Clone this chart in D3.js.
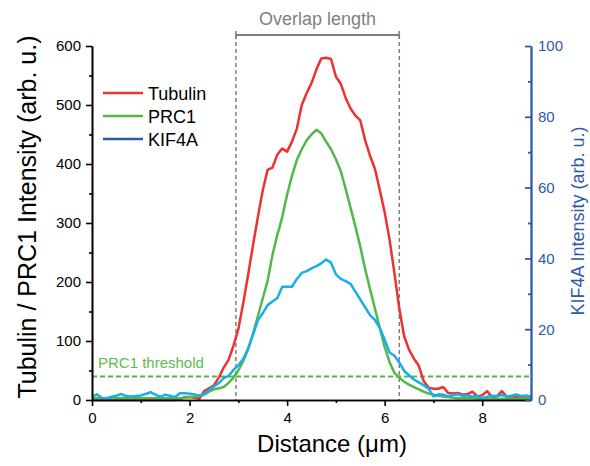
<!DOCTYPE html>
<html><head><meta charset="utf-8">
<script src="https://cdn.jsdelivr.net/npm/d3@7"></script>
<style>body{margin:0;background:#fff}svg{display:block}text{font-family:"Liberation Sans",Arial,sans-serif}</style>
</head><body><svg id="c" width="590" height="466"></svg>
<script>
const distance = d3.range(0, 91).map(i => +(i * 0.1).toFixed(1));
const tubulin = [0,0,0,0,0,0,0,0,0,0, 0,0,0,0,0,0,0,0,1,5,
  5,4,2,15,20,25,38,55,68,92, 120,164,212,262,310,355,390,394,416,426,
  421,438,460,500,520,537,560,579,580,578, 548,536,512,494,482,474,440,414,392,356,
  318,272,215,155,108,85,70,58,32,21, 19,19,22,12,11,12,9,10,14,6,
  8,15,5,6,15,6,4,5,4,4, 3];
const prc1 = [3,3,3,3,3,3,3,3,3,3, 3,3,3,3,3,3,3,3,3,4,
  5,6,7,9,14,18,20,22,29,38, 50,66,86,112,142,172,202,246,280,310,
  348,380,407,425,440,450,458,452,438,425, 408,388,358,326,294,260,222,188,155,122,
  90,64,46,38,31,26,22,18,14,11, 9,7,6,5,4,3,3,3,3,2,
  2,2,2,2,2,2,2,2,2,2, 2];
const kif4a = [0.9,1.6,0.6,0.5,0.9,1.2,1.7,1.1,1.0,1.1, 1.3,1.7,2.2,1.5,0.9,1.5,1.2,0.8,1.9,1.9,
  1.8,1.6,1.2,1.8,2.8,3.8,4.8,6.2,6.8,8.5, 9.8,11.6,14.5,18.4,22.5,24.5,26.8,27.8,28.8,32.0,
  32.0,32.0,34.2,35.9,36.4,37.2,37.8,38.6,39.7,38.8, 35.5,34.2,33.6,32.8,30.6,28.4,26.2,24.0,22.6,20.4,
  17.0,13.4,12.5,10.6,8.2,7.0,5.8,5.0,4.2,3.2, 1.0,1.6,1.5,1.0,1.4,1.6,1.2,1.3,1.0,1.1,
  0.5,0.9,1.2,1.1,1.4,1.0,1.2,1.6,1.1,1.3, 1.0];
const seriesNames = ["Tubulin", "PRC1", "KIF4A"];
const xTicks = [0, 2, 4, 6, 8];
const xMinor = [1, 3, 5, 7];
const yTicks = [0, 100, 200, 300, 400, 500, 600];
const yMinor = [50, 150, 250, 350, 450, 550];
const y2Ticks = [0, 20, 40, 60, 80, 100];
const y2Minor = [10, 30, 50, 70, 90];
const prc1Threshold = 40;
const overlap = [2.95, 6.30];

const RED = "#ee3131", GREEN = "#52b848", CYAN = "#18aeea", BLUE = "#2d5aa6", GRAY = "#7f7f7f";
const svg = d3.select("#c");
const x = d3.scaleLinear().domain([0, 9]).range([92, 531]);
const y = d3.scaleLinear().domain([0, 600]).range([400, 46]);
const y2 = d3.scaleLinear().domain([0, 100]).range([400, 46]);

function styleAxis(g, color, w) {
  g.select(".domain").attr("stroke", color).attr("stroke-width", w);
  g.selectAll(".tick line").attr("stroke", color).attr("stroke-width", w);
  g.selectAll(".tick text").attr("fill", color).style("font-size", "15px")
    .style("font-family", '"Liberation Sans",Arial,sans-serif');
}

// overlap markers
overlap.forEach(v => {
  svg.append("line").attr("x1", x(v)).attr("x2", x(v)).attr("y1", 35).attr("y2", 400)
    .attr("stroke", GRAY).attr("stroke-width", 1.5).attr("stroke-dasharray", "4,3");
  svg.append("line").attr("x1", x(v)).attr("x2", x(v)).attr("y1", 31).attr("y2", 39)
    .attr("stroke", GRAY).attr("stroke-width", 1.5);
});
svg.append("line").attr("x1", x(overlap[0])).attr("x2", x(overlap[1])).attr("y1", 35).attr("y2", 35)
  .attr("stroke", GRAY).attr("stroke-width", 2);
svg.append("text").attr("x", (x(overlap[0]) + x(overlap[1])) / 2).attr("y", 25)
  .attr("text-anchor", "middle").attr("fill", GRAY).style("font-size", "18px").text("Overlap length");

// threshold
svg.append("line").attr("x1", x(0)).attr("x2", x(9)).attr("y1", y(prc1Threshold)).attr("y2", y(prc1Threshold))
  .attr("stroke", GREEN).attr("stroke-width", 2).attr("stroke-dasharray", "5,3");
svg.append("text").attr("x", 98).attr("y", 368).attr("fill", "#5cbd4e").style("font-size", "15px").text("PRC1 threshold");

// lines
const lineL = d3.line().x((d, i) => x(distance[i])).y(d => y(d));
const lineR = d3.line().x((d, i) => x(distance[i])).y(d => y2(d));
svg.append("path").datum(tubulin).attr("d", lineL).attr("fill", "none").attr("stroke", RED).attr("stroke-width", 2.5).attr("stroke-linejoin", "round");
svg.append("path").datum(prc1).attr("d", lineL).attr("fill", "none").attr("stroke", GREEN).attr("stroke-width", 2.5).attr("stroke-linejoin", "round");
svg.append("path").datum(kif4a).attr("d", lineR).attr("fill", "none").attr("stroke", CYAN).attr("stroke-width", 2.5).attr("stroke-linejoin", "round");

// axes
const gx = svg.append("g").attr("transform", "translate(0,400)")
  .call(d3.axisBottom(x).tickValues(xTicks).tickSize(6).tickSizeOuter(0).tickPadding(6).tickFormat(d3.format("d")));
styleAxis(gx, "#000", 1.6);
const gxm = svg.append("g").attr("transform", "translate(0,400)")
  .call(d3.axisBottom(x).tickValues(xMinor).tickSize(3).tickSizeOuter(0).tickFormat(""));
styleAxis(gxm, "#000", 1.6);
const gy = svg.append("g").attr("transform", "translate(92,0)")
  .call(d3.axisLeft(y).tickValues(yTicks).tickSize(6).tickSizeOuter(0).tickPadding(5));
styleAxis(gy, "#000", 1.6);
const gym = svg.append("g").attr("transform", "translate(92,0)")
  .call(d3.axisLeft(y).tickValues(yMinor).tickSize(3).tickSizeOuter(0).tickFormat(""));
styleAxis(gym, "#000", 1.6);
const gy2 = svg.append("g").attr("transform", "translate(531,0)")
  .call(d3.axisRight(y2).tickValues(y2Ticks).tickSize(-6).tickSizeOuter(0).tickPadding(7));
styleAxis(gy2, BLUE, 1.8);
const gy2m = svg.append("g").attr("transform", "translate(531,0)")
  .call(d3.axisRight(y2).tickValues(y2Minor).tickSize(-3).tickSizeOuter(0).tickFormat(""));
styleAxis(gy2m, BLUE, 1.8);

// axis titles
svg.append("text").attr("transform", "translate(36,217) rotate(-90)").attr("text-anchor", "middle")
  .attr("fill", "#000").style("font-size", "25px").text("Tubulin / PRC1 Intensity (arb. u.)");
svg.append("text").attr("x", 332).attr("y", 452).attr("text-anchor", "middle")
  .attr("fill", "#000").style("font-size", "24px").text("Distance (\u03bcm)");
svg.append("text").attr("transform", "translate(584,221) rotate(-90)").attr("text-anchor", "middle")
  .attr("fill", BLUE).style("font-size", "18px").text("KIF4A Intensity (arb. u.)");

// legend
const legColors = [RED, GREEN, BLUE];
seriesNames.forEach((n, i) => {
  const yy = 93 + i * 23;
  svg.append("line").attr("x1", 103).attr("x2", 143).attr("y1", yy).attr("y2", yy)
    .attr("stroke", legColors[i]).attr("stroke-width", 2.5);
  svg.append("text").attr("x", 148).attr("y", yy + 7).attr("fill", "#000").style("font-size", "18px").text(n);
});
</script></body></html>
